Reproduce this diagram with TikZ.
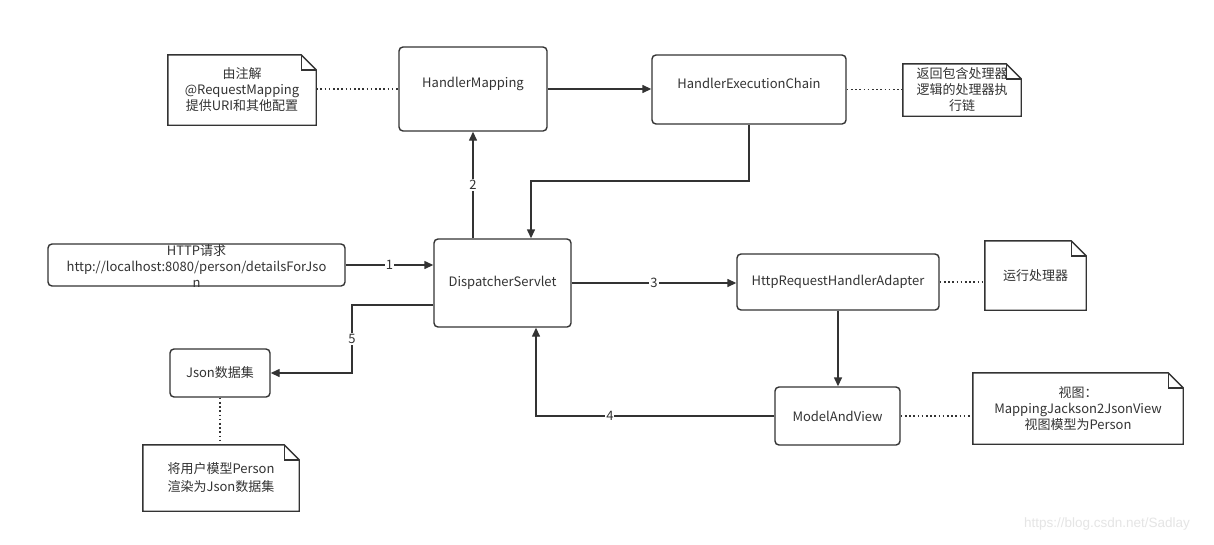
\documentclass[tikz,border=0pt]{standalone}
\usepackage{fontspec}
\setmainfont{Noto Sans CJK SC}
\newfontfamily\wmfont{Liberation Sans}
\usetikzlibrary{arrows.meta}
\definecolor{ln}{HTML}{333333}
\definecolor{tx}{HTML}{333333}
\tikzset{
  base/.style={inner sep=0pt, align=center, text=tx, font=\fontsize{13}{16}\selectfont},
  box/.style={base, draw=ln, line width=1.4pt, rounded corners=4pt},
  notebox/.style={base},
  conn/.style={draw=ln, line width=1.4pt, -{Triangle[length=9pt,width=8pt]}},
  dotline/.style={draw=ln, line width=1.6pt, dash pattern=on 1.6pt off 2.6pt},
  lbl/.style={fill=white, inner sep=1pt, text=tx, font=\fontsize{13}{14}\selectfont},
}
\newcommand{\notefold}[1]{%
  \draw[ln, line width=1.4pt, line join=miter]
    (#1.north west) -- ([xshift=-15pt]#1.north east) -- ([yshift=-15pt]#1.north east)
    -- (#1.south east) -- (#1.south west) -- cycle;
  \draw[ln, line width=1.4pt]
    ([xshift=-15pt]#1.north east) -- ([xshift=-15pt,yshift=-15pt]#1.north east)
    -- ([yshift=-15pt]#1.north east);}
\begin{document}
\begin{tikzpicture}[x=1pt,y=-1pt]
\useasboundingbox[fill=white] (0,0) rectangle (1214,544);
% boxes
\node[box, minimum width=148pt, minimum height=84pt] (hm) at (473,89) {\raisebox{13pt}{HandlerMapping}};
\node[box, minimum width=194pt, minimum height=69pt] (hec) at (749,89.5) {\raisebox{13pt}{HandlerExecutionChain}};
\node[box, minimum width=137pt, minimum height=88pt] (ds) at (502.5,283) {DispatcherServlet};
\node[box, minimum width=202pt, minimum height=56pt] (hrha) at (838,282) {HttpRequestHandlerAdapter};
\node[box, minimum width=100pt, minimum height=48pt] (json) at (220,373) {Json数据集};
\node[box, minimum width=125pt, minimum height=58pt] (mav) at (837.5,416) {ModelAndView};
\node[box, minimum width=297pt, minimum height=42pt] (http) at (196.5,265) {};
\begin{scope}
  \clip (48,244) rectangle (345,286);
  \node[base] (httpt) at (196.5,266) {HTTP请求\\http://localhost:8080/person/detailsForJso\\n};
\end{scope}
% notes
\node[notebox, minimum width=148pt, minimum height=70pt] (n1) at (242,90) {由注解\\@RequestMapping\\提供URI和其他配置};
\notefold{n1}
\node[notebox, minimum width=118pt, minimum height=52pt] (n2) at (962,90) {返回包含处理器\\逻辑的处理器执\\行链};
\notefold{n2}
\node[notebox, minimum width=101pt, minimum height=69pt] (n3) at (1035.5,275.5) {运行处理器};
\notefold{n3}
\node[notebox, minimum width=156pt, minimum height=66pt, font=\fontsize{13}{18}\selectfont] (n5) at (221,478) {将用户模型Person\\渲染为Json数据集};
\notefold{n5}
\node[notebox, minimum width=210pt, minimum height=71pt] (n6) at (1078,408.5) {视图：\\MappingJackson2JsonView\\视图模型为Person};
\notefold{n6}
% connectors
\draw[dotline] (n1.east |- hm.east) -- (hm.east -| hm.west);
\draw[conn] (hm.east) -- (hm.east -| hec.west);
\draw[dotline] (hec.east) -- (hec.east -| n2.west);
\coordinate (c1) at (531,181);
\draw[conn] (hec.south) |- (c1) -- (c1 |- ds.north);
\coordinate (c2) at (473,0);
\draw[conn] (c2 |- ds.north) -- node[lbl]{2} (c2 |- hm.south);
\draw[conn] (http.east) -- node[lbl]{1} (http.east -| ds.west);
\draw[conn] (ds.east) -- node[lbl]{3} (ds.east -| hrha.west);
\draw[dotline] (hrha.east) -- (hrha.east -| n3.west);
\draw[conn] (hrha.south) -- (hrha.south |- mav.north);
\draw[dotline] (mav.east) -- (mav.east -| n6.west);
\coordinate (c4) at (536,416);
\draw[conn] (mav.west) -- node[lbl, pos=0.69]{4} (c4) -- (c4 |- ds.south);
\coordinate (c5) at (352,305);
\draw[conn] (ds.west |- c5) -- (c5) -- node[lbl]{5} (c5 |- json.east) -- (json.east);
\draw[dotline] (json.south) -- (json.south |- n5.north);
% watermark
\node[text=black!10, font=\wmfont\fontsize{13.5}{15}\selectfont, inner sep=0pt] (wm) at (1107,524) {https://blog.csdn.net/Sadlay};
\end{tikzpicture}
\end{document}
